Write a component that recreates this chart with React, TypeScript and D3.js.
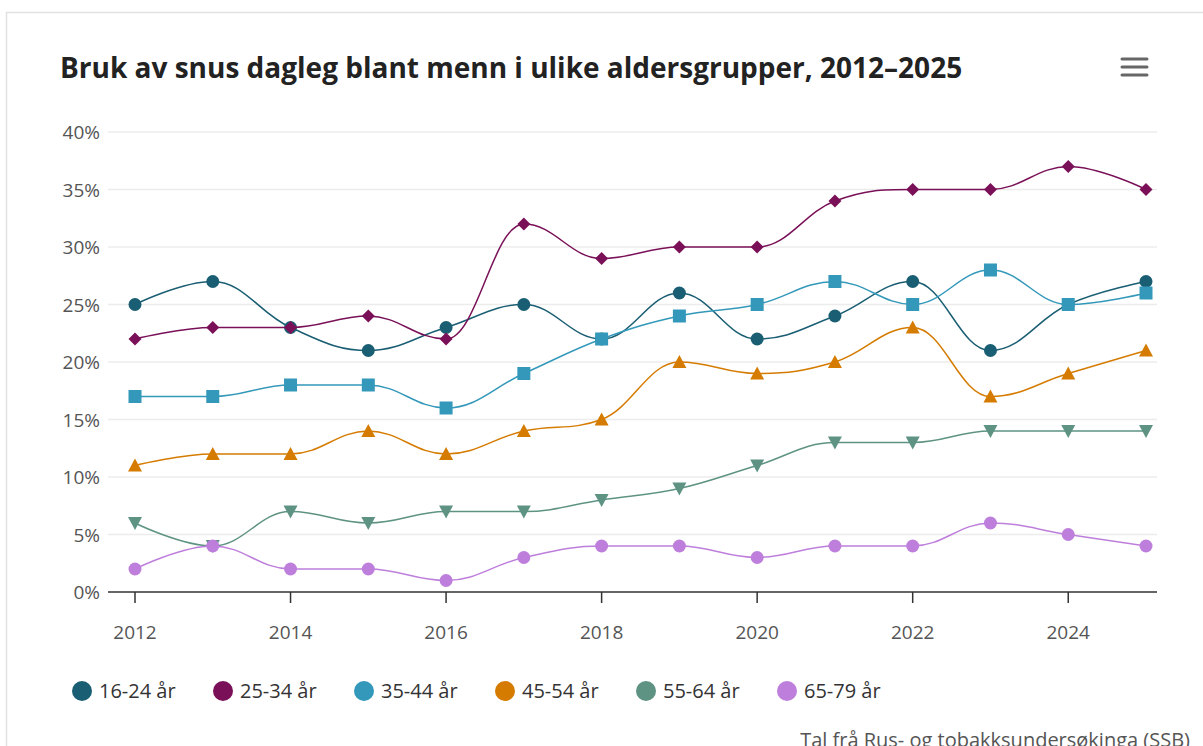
import React from 'react'
import * as d3 from 'd3'

const years = [2012, 2013, 2014, 2015, 2016, 2017, 2018, 2019, 2020, 2021, 2022, 2023, 2024, 2025]
const xTicks = [2012, 2014, 2016, 2018, 2020, 2022, 2024]
const yTicks = [0, 5, 10, 15, 20, 25, 30, 35, 40]

const ageGroups = ['16-24 år', '25-34 år', '35-44 år', '45-54 år', '55-64 år', '65-79 år']
const colors = ['#1a5e73', '#7a1158', '#3398b9', '#d57b00', '#5e9383', '#be7fdc']
const symbols = ['circle', 'diamond', 'square', 'triangle', 'triangle-down', 'circle']

const v16_24 = [25, 27, 23, 21, 23, 25, 22, 26, 22, 24, 27, 21, 25, 27]
const v25_34 = [22, 23, 23, 24, 22, 32, 29, 30, 30, 34, 35, 35, 37, 35]
const v35_44 = [17, 17, 18, 18, 16, 19, 22, 24, 25, 27, 25, 28, 25, 26]
const v45_54 = [11, 12, 12, 14, 12, 14, 15, 20, 19, 20, 23, 17, 19, 21]
const v55_64 = [6, 4, 7, 6, 7, 7, 8, 9, 11, 13, 13, 14, 14, 14]
const v65_79 = [2, 4, 2, 2, 1, 3, 4, 4, 3, 4, 4, 6, 5, 4]
const seriesValues = [v16_24, v25_34, v35_44, v45_54, v55_64, v65_79]

const title = 'Bruk av snus dagleg blant menn i ulike aldersgrupper, 2012–2025'
const credits = 'Tal frå Rus- og tobakksundersøkinga (SSB)'

const FONT = '"Segoe UI", "Open Sans", "Noto Sans", sans-serif'

// spline like the original chart: smoothing 1.5, flattened at local extremes
function splineCurve(context: any) {
  let pts: [number, number][] = []
  return {
    areaStart() {},
    areaEnd() {},
    lineStart() { pts = [] },
    point(x: number, y: number) { pts.push([+x, +y]) },
    lineEnd() {
      const n = pts.length
      if (!n) return
      const s = 1.5, den = s + 1
      const cont = pts.map((p, i) => {
        const [px, py] = p
        if (i === 0 || i === n - 1) return null
        const [lx, ly] = pts[i - 1]
        const [nx, ny] = pts[i + 1]
        const lcx = (s * px + lx) / den
        let lcy = (s * py + ly) / den
        const rcx = (s * px + nx) / den
        let rcy = (s * py + ny) / den
        const corr = ((rcy - lcy) * (rcx - px)) / (rcx - lcx) + py - rcy
        lcy += corr
        rcy += corr
        if (lcy > ly && lcy > py) { lcy = Math.max(ly, py); rcy = 2 * py - lcy }
        else if (lcy < ly && lcy < py) { lcy = Math.min(ly, py); rcy = 2 * py - lcy }
        if (rcy > ny && rcy > py) { rcy = Math.max(ny, py); lcy = 2 * py - rcy }
        else if (rcy < ny && rcy < py) { rcy = Math.min(ny, py); lcy = 2 * py - rcy }
        return { lcx, lcy, rcx, rcy }
      })
      context.moveTo(pts[0][0], pts[0][1])
      for (let i = 1; i < n; i++) {
        const prev = cont[i - 1]
        const cur = cont[i]
        context.bezierCurveTo(
          prev ? prev.rcx : pts[i - 1][0], prev ? prev.rcy : pts[i - 1][1],
          cur ? cur.lcx : pts[i][0], cur ? cur.lcy : pts[i][1],
          pts[i][0], pts[i][1]
        )
      }
    },
  }
}

function Marker({ kind, x, y, color }: { kind: string; x: number; y: number; color: string }) {
  if (kind === 'circle') return <circle cx={x} cy={y} r={6.5} fill={color} />
  if (kind === 'square') return <rect x={x - 6.5} y={y - 6.5} width={13} height={13} fill={color} />
  if (kind === 'diamond') return <path d={`M${x},${y - 6.5}L${x + 6.5},${y}L${x},${y + 6.5}L${x - 6.5},${y}Z`} fill={color} />
  if (kind === 'triangle') return <path d={`M${x},${y - 7}L${x + 7},${y + 6}L${x - 7},${y + 6}Z`} fill={color} />
  return <path d={`M${x},${y + 7}L${x + 7},${y - 6}L${x - 7},${y - 6}Z`} fill={color} />
}

export default function App() {
  const W = 1203, H = 746
  const plotLeft = 108, plotRight = 1157
  const x = d3.scaleLinear().domain([2012, 2025]).range([135, 1146])
  const y = d3.scaleLinear().domain([0, 40]).range([592, 132])

  const line = d3.line<number>()
    .x((_, i) => x(years[i]))
    .y((d) => y(d))
    .curve(splineCurve as any)

  const legendX = d3.scaleLinear().domain([0, 1]).range([82, 223])

  return (
    <svg width={W} height={H} style={{ position: 'absolute', left: 0, top: 0, background: '#fff' }} fontFamily={FONT}>
      <rect x={0} y={0} width={W} height={H} fill="#fff" />
      {/* card border */}
      <path d={`M6.5,${H}V12.5H${W}`} fill="none" stroke="#e1e1e1" strokeWidth={1.5} />

      <text x={60} y={78} fontSize={28} fontWeight={700} fill="#222">{title}</text>

      {/* menu icon */}
      <g stroke="#666" strokeWidth={3} strokeLinecap="round">
        <line x1={1122} x2={1147} y1={59} y2={59} />
        <line x1={1122} x2={1147} y1={67} y2={67} />
        <line x1={1122} x2={1147} y1={75} y2={75} />
      </g>

      {/* grid + y labels */}
      {yTicks.map((t) => (
        <g key={t}>
          {t > 0 && <line x1={plotLeft} x2={plotRight} y1={y(t)} y2={y(t)} stroke="#ececec" strokeWidth={1.5} />}
          <text x={100} y={y(t) + 7} textAnchor="end" fontSize={19} fill="#555">{t}%</text>
        </g>
      ))}

      {/* x axis */}
      <line x1={plotLeft} x2={plotRight} y1={y(0)} y2={y(0)} stroke="#333" strokeWidth={1.5} />
      {xTicks.map((t) => (
        <g key={t}>
          <line x1={x(t)} x2={x(t)} y1={y(0)} y2={y(0) + 11} stroke="#333" strokeWidth={1.5} />
          <text x={x(t)} y={y(0) + 47} textAnchor="middle" fontSize={19} fill="#555">{t}</text>
        </g>
      ))}

      {/* series */}
      {seriesValues.map((vals, si) => (
        <g key={si}>
          <path d={line(vals) || ''} fill="none" stroke={colors[si]} strokeWidth={1.5} />
          {vals.map((v, i) => (
            <Marker key={i} kind={symbols[si]} x={x(years[i])} y={y(v)} color={colors[si]} />
          ))}
        </g>
      ))}

      {/* legend */}
      {ageGroups.map((g, i) => (
        <g key={g} transform={`translate(${legendX(i)},691)`}>
          <circle r={10} fill={colors[i]} />
          <text x={17} y={7} fontSize={20} fill="#333">{g}</text>
        </g>
      ))}

      <text x={1190} y={747} textAnchor="end" fontSize={20} fill="#555">{credits}</text>
    </svg>
  )
}
